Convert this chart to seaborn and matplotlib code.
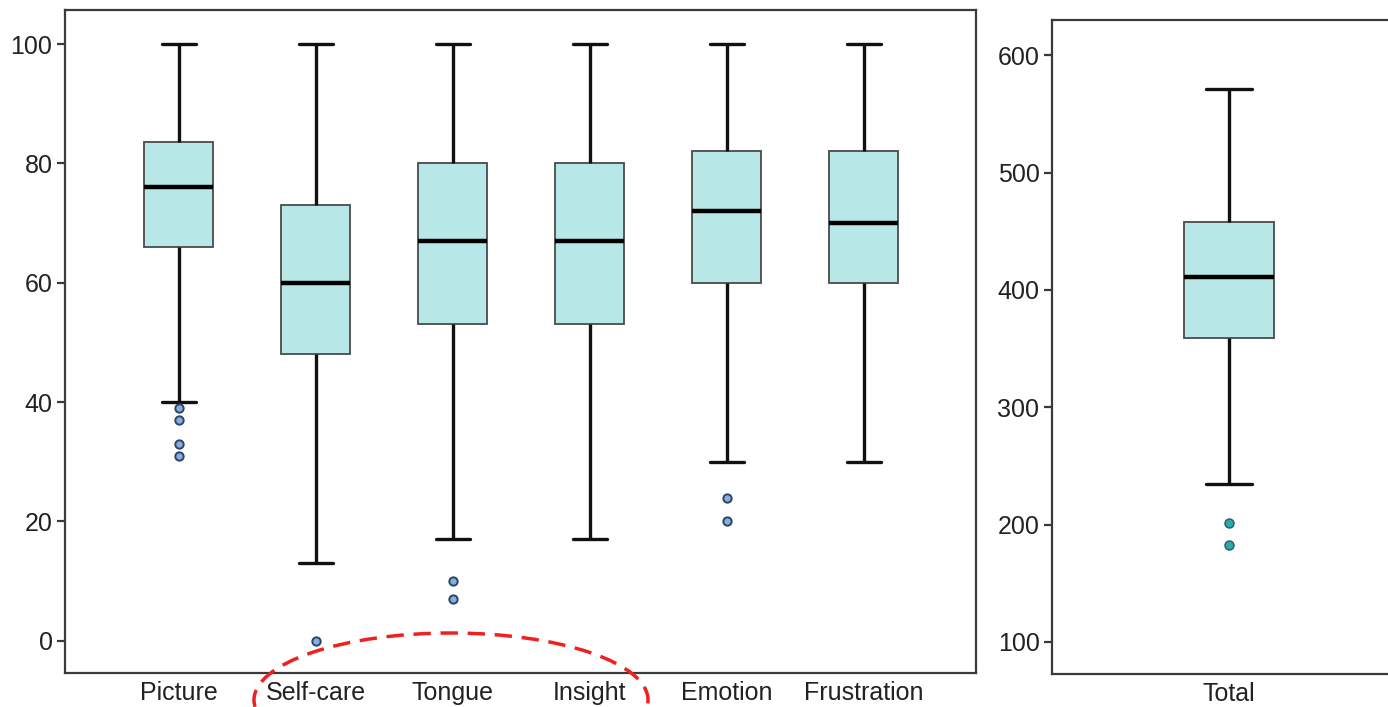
import numpy as np
import pandas as pd
import seaborn as sns
import matplotlib.pyplot as plt
from matplotlib.patches import Ellipse

# Resumen de cada dominio: bigote inferior, Q1, mediana, Q3, bigote superior
categories = ['Picture', 'Self-care', 'Tongue', 'Insight', 'Emotion', 'Frustration']
whisker_low = [40, 13, 17, 17, 30, 30]
q1 = [66, 48, 53, 53, 60, 60]
median = [76, 60, 67, 67, 72, 70]
q3 = [83.5, 73, 80, 80, 82, 82]
whisker_high = [100, 100, 100, 100, 100, 100]

outlier_cat = ['Picture', 'Picture', 'Picture', 'Picture', 'Self-care', 'Tongue', 'Tongue', 'Emotion', 'Emotion']
outlier_val = [39, 37, 33, 31, 0, 10, 7, 24, 20]

# Total
total_summary = [235, 359, 411, 458, 571]
total_outliers = [201, 183]

box_color = '#b7e7e7'

rows = []
for i, c in enumerate(categories):
    for v in [whisker_low[i], q1[i], median[i], q3[i], whisker_high[i]]:
        rows.append({'domain': c, 'score': v})
df = pd.DataFrame(rows)
df_out = pd.DataFrame({'domain': outlier_cat, 'score': outlier_val})
df_total = pd.DataFrame({'domain': ['Total'] * len(total_summary), 'score': total_summary})
df_total_out = pd.DataFrame({'domain': ['Total'] * len(total_outliers), 'score': total_outliers})

sns.set_style('white')
plt.rcParams['font.family'] = ['Liberation Sans', 'DejaVu Sans']

fig = plt.figure(figsize=(13.88, 7.07), dpi=100)
ax1 = fig.add_axes([65 / 1388, 34 / 707, 911 / 1388, 663 / 707])
ax2 = fig.add_axes([1052 / 1388, 33 / 707, 354 / 1388, 654 / 707])

box_kw = dict(whis=(0, 100), color=box_color, saturation=1, showfliers=False,
              boxprops=dict(edgecolor='#4a4a4a', linewidth=1.3),
              whiskerprops=dict(color='#111111', linewidth=2.4),
              capprops=dict(color='#111111', linewidth=2.4),
              medianprops=dict(color='#000000', linewidth=3.2))

sns.boxplot(data=df, x='domain', y='score', order=categories, width=0.5, ax=ax1, **box_kw)
sns.stripplot(data=df_out, x='domain', y='score', order=categories, jitter=False, ax=ax1,
              size=6, color='#86aee0', edgecolor='#2c4466', linewidth=1.4)

sns.boxplot(data=df_total, x='domain', y='score', width=0.255, ax=ax2, **box_kw)
sns.stripplot(data=df_total_out, x='domain', y='score', jitter=False, ax=ax2,
              size=6.5, color='#33a6a6', edgecolor='#1f5f5f', linewidth=1.0)

ax1.set_xlim(-0.83, 5.82)
ax1.set_ylim(-5.4, 105.7)
ax1.set_yticks([0, 20, 40, 60, 80, 100])
ax2.set_xlim(-0.5, 0.5)
ax2.set_ylim(72.7, 630)
ax2.set_yticks([100, 200, 300, 400, 500, 600])

for ax in (ax1, ax2):
    ax.set_xlabel('')
    ax.set_ylabel('')
    for s in ax.spines.values():
        s.set_visible(True)
        s.set_color('#3a3a3a')
        s.set_linewidth(1.6)
    ax.tick_params(axis='y', left=True, length=6, width=1.6, color='#3a3a3a',
                   labelsize=18, labelcolor='#222222', pad=3)
    ax.tick_params(axis='x', bottom=False, labelsize=18, labelcolor='#222222', pad=2)

# elipse roja discontinua sobre las etiquetas
ell = Ellipse((451 / 1388, 1 - 700 / 707), 394 / 1388, 134 / 707, transform=fig.transFigure,
              fill=False, edgecolor='#ee2020', linewidth=2.5, linestyle=(0, (5, 2.8)),
              clip_on=False, zorder=10)
fig.add_artist(ell)

fig.savefig('out.png', dpi=100)
